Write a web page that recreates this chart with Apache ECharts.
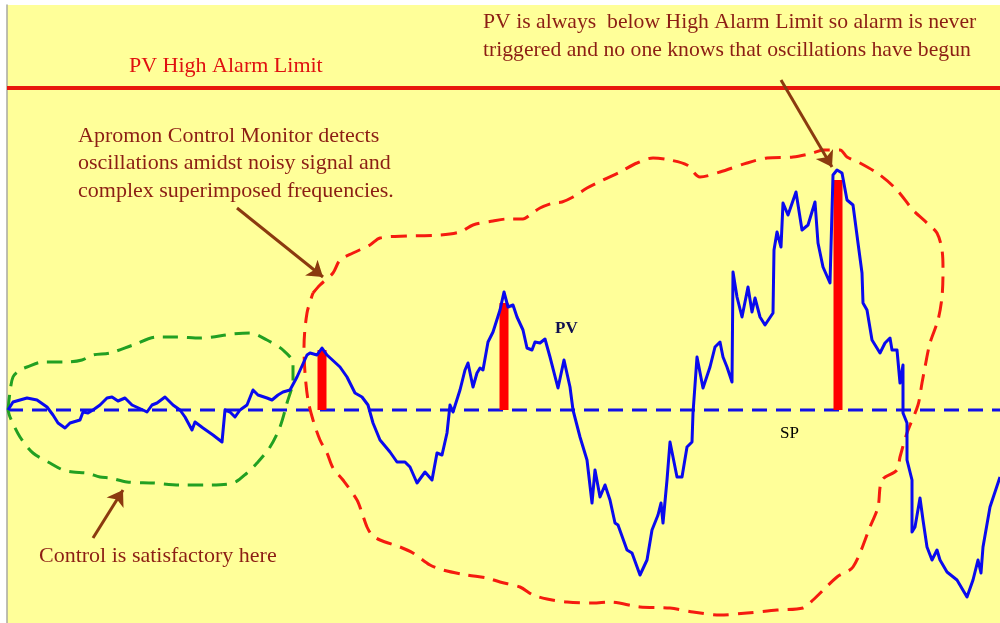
<!DOCTYPE html>
<html>
<head>
<meta charset="utf-8">
<script src="https://cdn.jsdelivr.net/npm/echarts@6/dist/echarts.min.js"></script>
<style>
html,body{margin:0;padding:0;background:#fff;}
#chart{width:1000px;height:623px;}
</style>
</head>
<body>
<div id="chart"></div>
<script>
// ---- Data (x = time in samples, y = PV deviation from setpoint) ----
const SETPOINT = 0;
const HIGH_ALARM = 322;
const X_MIN = 7, X_MAX = 1000, Y_MIN = -213, Y_MAX = 405;

const pvTime = [8,13,27,37,47,53,58,65,70,80,83,88,93,100,107,112,118,125,132,143,147,152,157,165,173,180,185,192,195,203,213,222,225,230,235,240,247,253,258,267,272,278,283,290,297,307,310,317,322,327,340,347,355,362,368,373,380,390,397,405,410,417,425,432,437,442,447,450,453,460,465,468,473,477,480,483,488,493,500,504,508,513,517,523,527,532,535,540,545,550,558,564,570,573,580,587,592,595,600,605,610,615,618,627,632,640,647,652,658,661,663,667,670,673,677,682,687,692,693,697,703,710,715,720,723,727,732,733,737,742,748,752,755,760,765,773,774,777,781,783,788,796,802,808,815,818,823,830,833,837,842,847,853,858,862,863,867,872,880,885,890,892,897,900,903,903,907,907,907,912,912,915,920,923,927,932,937,940,947,957,967,973,978,981,983,990,1000];
const pvValue = [0,8,12,10,3,-5,-13,-18,-13,-10,-2,-3,0,5,12,13,9,12,5,0,-2,5,7,13,5,0,-7,-20,-12,-18,-25,-32,0,-2,-7,0,5,20,15,12,10,15,18,20,33,55,57,55,62,55,43,33,17,13,5,-13,-30,-42,-52,-52,-57,-73,-62,-70,-43,-45,-23,5,-2,20,40,47,23,37,42,40,68,78,100,118,103,105,93,80,62,60,68,67,71,53,22,50,23,0,-27,-50,-93,-60,-87,-75,-90,-113,-115,-140,-143,-165,-150,-120,-105,-93,-113,-70,-32,-47,-67,-67,-37,-32,-3,53,22,43,63,68,53,43,28,138,113,93,123,98,112,93,85,97,160,178,163,207,195,218,180,185,208,167,143,127,235,240,237,210,205,167,137,107,100,70,57,67,72,60,60,27,45,-3,-13,-20,-50,-70,-122,-117,-88,-110,-137,-150,-140,-150,-162,-170,-187,-170,-150,-163,-137,-97,-67];

// deviation bars (detected oscillation peaks)
const barTime = [322, 504, 838];
const barValue = [60, 107, 230];

// green loop (satisfactory region)
const greenX = [8,10,13,20,27,43,67,82,93,110,133,157,177,200,233,250,267,283,293,293,287,280,270,257,247,233,207,180,153,127,110,100,87,73,63,50,33,20,10,8];
const greenY = [0,18,33,40,43,48,48,50,55,57,65,73,73,72,76,77,70,60,47,30,7,-17,-37,-53,-63,-73,-75,-75,-73,-72,-68,-67,-63,-62,-60,-53,-43,-27,-7,0];

// red loop (oscillation region)
const redX = [313,320,333,340,353,370,380,407,440,460,473,493,507,523,530,540,553,562,573,587,603,620,637,653,670,687,700,720,747,767,793,813,823,840,847,860,880,897,913,927,937,942,943,942,938,930,925,922,918,907,900,897,882,878,870,853,837,813,803,777,747,720,693,670,640,610,593,567,547,533,520,500,487,467,443,430,413,400,380,372,367,362,357,343,333,327,320,313,308,305,304,307,313];
const redY = [117,125,137,150,157,165,172,174,175,178,185,189,191,191,195,202,207,208,213,222,230,238,247,252,250,245,233,238,247,252,253,257,260,260,253,247,235,220,200,187,177,160,140,113,90,67,43,27,5,-23,-47,-60,-70,-97,-117,-157,-167,-190,-198,-200,-203,-205,-202,-198,-197,-192,-193,-192,-189,-185,-177,-172,-168,-165,-160,-155,-143,-137,-130,-125,-117,-103,-90,-70,-58,-43,-30,-10,10,37,63,97,117];

// annotation arrows [fromX, fromY, toX, toY]
const arrows = [
  [237, 202, 323, 133],
  [781, 330, 832, 243],
  [93, -128, 123, -80]
];

const zip = (a, b) => a.map((v, i) => [v, b[i]]);

const TXT = '#8C1E14';
const FONT = '"Liberation Serif", "Times New Roman", serif';

const chart = echarts.init(document.getElementById('chart'), null, {renderer: 'canvas'});
chart.setOption({
  backgroundColor: '#ffffff',
  animation: false,
  grid: {left: 7, right: 0, top: 5, bottom: 0, show: true, backgroundColor: '#FFFF99', borderWidth: 0},
  xAxis: {type: 'value', min: X_MIN, max: X_MAX, show: false},
  yAxis: {type: 'value', min: Y_MIN, max: Y_MAX, splitLine: {show: false},
    axisLabel: {show: false}, axisTick: {show: false},
    axisLine: {show: true, onZero: false, lineStyle: {color: '#A8A8A0', width: 1.5}}},
  series: [
    {type: 'line', name: 'High Alarm', data: [[X_MIN, HIGH_ALARM], [X_MAX, HIGH_ALARM]], symbol: 'none',
      lineStyle: {color: '#E8170C', width: 4}, z: 2},
    {type: 'line', name: 'SP', data: [[8, SETPOINT], [X_MAX, SETPOINT]], symbol: 'none',
      lineStyle: {color: '#1010E8', width: 3, type: [15, 9]}, z: 2},
    {type: 'line', name: 'green', data: zip(greenX, greenY), symbol: 'none', smooth: 0.3,
      lineStyle: {color: '#22A022', width: 3, type: [15, 9]}, z: 3},
    {type: 'line', name: 'red', data: zip(redX, redY), symbol: 'none', smooth: 0.3,
      lineStyle: {color: '#F51B0F', width: 3, type: [16, 9]}, z: 3},
    {type: 'bar', name: 'dev', data: zip(barTime, barValue), barWidth: 9,
      itemStyle: {color: '#FF0000'}, z: 4},
    {type: 'line', name: 'PV', data: zip(pvTime, pvValue), symbol: 'none',
      lineStyle: {color: '#0A0AEE', width: 3, join: 'round'}, z: 5},
    {type: 'lines', coordinateSystem: 'cartesian2d', z: 6,
      symbol: ['none', 'arrow'], symbolSize: 15,
      lineStyle: {color: '#8B3A0F', width: 3, opacity: 1},
      data: arrows.map(a => ({coords: [[a[0], a[1]], [a[2], a[3]]]}))}
  ],
  graphic: [
    {type: 'text', left: 129, top: 55, style: {text: 'PV High Alarm Limit', fill: '#E01010', font: '22px ' + FONT}},
    {type: 'text', left: 483, top: 8, style: {text: 'PV is always  below High Alarm Limit so alarm is never\ntriggered and no one knows that oscillations have begun',
      fill: TXT, font: '21.7px ' + FONT, lineHeight: 28}},
    {type: 'text', left: 78, top: 122, style: {text: 'Apromon Control Monitor detects\noscillations amidst noisy signal and\ncomplex superimposed frequencies.',
      fill: TXT, font: '22px ' + FONT, lineHeight: 27.5}},
    {type: 'text', left: 39, top: 545, style: {text: 'Control is satisfactory here', fill: TXT, font: '22px ' + FONT}},
    {type: 'text', left: 555, top: 320, style: {text: 'PV', fill: '#101050', font: 'bold 17px ' + FONT}},
    {type: 'text', left: 780, top: 425, style: {text: 'SP', fill: '#000000', font: '17px ' + FONT}}
  ]
});
</script>
</body>
</html>
